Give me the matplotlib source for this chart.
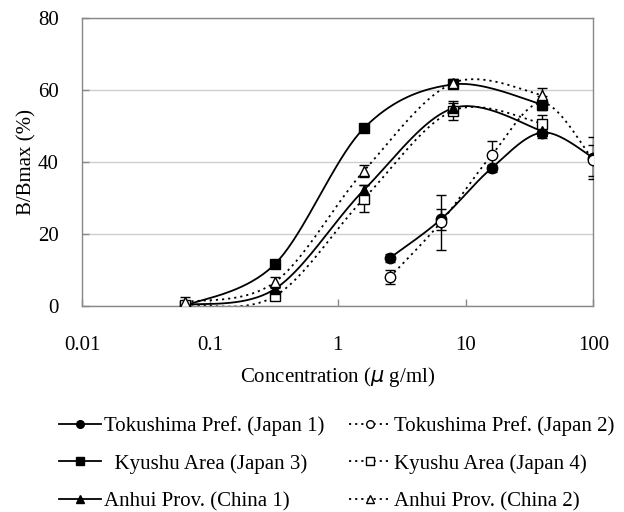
import numpy as np
import matplotlib
matplotlib.use("Agg")
import matplotlib.pyplot as plt
from matplotlib.lines import Line2D

plt.rcParams["font.family"] = ["Liberation Serif", "DejaVu Serif"]

# concentrations (ug/ml)
conc_tok = [2.56, 6.4, 16, 40, 100]
conc_other = [0.064, 0.32, 1.6, 8, 40]

# B/Bmax (%) and error bars
tok1 = [13.3, 24.0, 38.3, 48.2, 41.2]
tok1_err = [1.2, 3.0, 1.0, 1.5, 5.8]
tok2 = [8.0, 23.2, 41.9, 56.5, 40.5]
tok2_err = [2.0, 7.7, 4.0, 2.0, 4.3]
kyu3 = [0.0, 11.5, 49.4, 61.6, 56.0]
kyu3_err = [0.5, 0.8, 0.8, 1.0, 1.0]
kyu4 = [0.3, 2.6, 29.8, 54.3, 50.7]
kyu4_err = [1.0, 1.0, 3.7, 2.6, 2.5]
anh1 = [0.2, 4.6, 32.2, 55.0, 48.6]
anh1_err = [0.5, 1.0, 1.5, 1.5, 1.5]
anh2 = [1.0, 6.5, 37.5, 62.0, 58.6]
anh2_err = [1.3, 1.5, 1.8, 1.0, 2.0]

labels = ["Tokushima Pref. (Japan 1)", "Tokushima Pref. (Japan 2)",
          "  Kyushu Area (Japan 3)", "Kyushu Area (Japan 4)",
          "Anhui Prov. (China 1)", "Anhui Prov. (China 2)"]


def smooth(x, y, n=40):
    # Excel-style smoothed line: bezier segments with catmull-rom controls,
    # computed in (roughly) screen space
    u = np.log10(np.asarray(x, float)) * 128.0
    v = np.asarray(y, float) * 3.6
    P = np.column_stack([u, v])
    P_ext = np.vstack([P[0], P, P[-1]])
    t = np.linspace(0, 1, n)[:, None]
    pts = []
    for i in range(len(P) - 1):
        p0, p1 = P_ext[i + 1], P_ext[i + 2]
        c1 = p0 + (P_ext[i + 2] - P_ext[i]) / 6
        c2 = p1 - (P_ext[i + 3] - P_ext[i + 1]) / 6
        seg = ((1 - t) ** 3 * p0 + 3 * (1 - t) ** 2 * t * c1
               + 3 * (1 - t) * t ** 2 * c2 + t ** 3 * p1)
        pts.append(seg if i == 0 else seg[1:])
    pts = np.vstack(pts)
    return 10 ** (pts[:, 0] / 128.0), pts[:, 1] / 3.6


fig = plt.figure(figsize=(6.24, 5.12), dpi=100)
ax = fig.add_axes([0.1319, 0.4029, 0.8189, 0.5614])

dotted = (0, (1.2, 2.2))
series = [
    (conc_tok, tok1, tok1_err, "-", "o", "black", 7.5),
    (conc_tok, tok2, tok2_err, dotted, "o", "white", 7.5),
    (conc_other, kyu3, kyu3_err, "-", "s", "black", 7.5),
    (conc_other, kyu4, kyu4_err, dotted, "s", "white", 7.5),
    (conc_other, anh1, anh1_err, "-", "^", "black", 7.5),
    (conc_other, anh2, anh2_err, dotted, "^", "white", 7.5),
]

handles = []
for x, y, err, ls, mk, fc, ms in series:
    sx, sy = smooth(x, y)
    ax.plot(sx, sy, color="black", ls=ls, lw=1.3, zorder=2)
    ax.errorbar(x, y, yerr=err, fmt="none", ecolor="black", elinewidth=1,
                capsize=3.3, capthick=1, zorder=3)
    ax.plot(x, y, ls="none", marker=mk, ms=ms, mfc=fc, mec="black",
            mew=1, zorder=4)
    handles.append(Line2D([], [], color="black", ls=ls, lw=1.3, marker=mk,
                          ms=5.5, mfc=fc, mec="black", mew=1))

ax.set_xscale("log")
ax.set_xlim(0.01, 100)
ax.set_ylim(0, 80)
ax.set_yticks([0, 20, 40, 60, 80])
ax.set_xticks([0.01, 0.1, 1, 10, 100])
ax.set_xticklabels(["0.01", "0.1", "1", "10", "100"])
ax.minorticks_off()
ax.yaxis.grid(True, color="#cfcfcf", lw=1)
ax.set_axisbelow(True)
for sp in ax.spines.values():
    sp.set_color("#888888")
    sp.set_linewidth(1)
ax.tick_params(direction="in", length=5, width=1, color="#888888",
               labelsize=15)
ax.tick_params(axis="x", pad=21.5)
ax.tick_params(axis="y", pad=17)
ax.set_ylabel("B/Bmax (%)", fontsize=15, labelpad=1)
ax.set_xlabel("Concentration ($\\mu$ g/ml)", fontsize=15, labelpad=7.5)

order = [0, 2, 4, 1, 3, 5]
fig.legend([handles[i] for i in order], [labels[i] for i in order],
           ncol=2, loc="upper left", bbox_to_anchor=(59 / 624, 1 - 416 / 512),
           frameon=False, fontsize=15, handlelength=2.0, handletextpad=0.15,
           columnspacing=1.2, labelspacing=0.86, borderpad=0, borderaxespad=0)

fig.savefig("out.png", dpi=100)
